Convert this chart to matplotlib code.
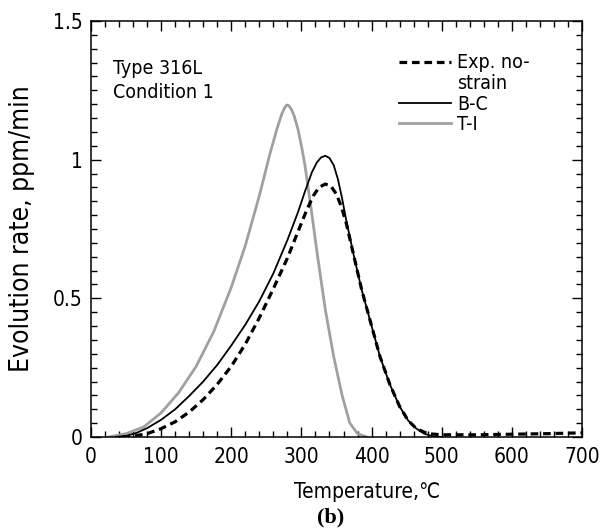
"""Hydrogen evolution rate vs temperature, type 316L, condition 1 (panel b)."""

import matplotlib
matplotlib.use("Agg")
import matplotlib.pyplot as plt
from matplotlib import font_manager
from matplotlib.lines import Line2D
from matplotlib.ticker import MultipleLocator

# ------------------------------------------------------------------
# Data
# ------------------------------------------------------------------
exp_T = [45, 60, 80, 100, 120, 140, 160, 180, 200, 220, 240, 260, 280, 295,
         307, 317, 325, 334, 342, 350, 357, 364, 375, 386, 399, 412, 426,
         440, 452, 464, 480, 500, 550, 600, 650, 700]
exp_rate = [0.0, 0.003, 0.012, 0.03, 0.055, 0.09, 0.135, 0.19, 0.255, 0.335,
            0.43, 0.535, 0.645, 0.74, 0.815, 0.87, 0.9, 0.912, 0.905, 0.875,
            0.83, 0.77, 0.65, 0.53, 0.41, 0.29, 0.19, 0.11, 0.06, 0.03,
            0.012, 0.008, 0.008, 0.01, 0.012, 0.015]

bc_T = [35, 50, 65, 80, 100, 120, 140, 160, 180, 200, 220, 240, 260, 280,
        295, 305, 315, 322, 328, 334, 340, 346, 352, 358, 364, 375, 386,
        399, 412, 426, 440, 452, 464, 475, 488, 500]
bc_rate = [0.0, 0.004, 0.015, 0.032, 0.062, 0.1, 0.148, 0.2, 0.26, 0.33,
           0.405, 0.49, 0.59, 0.71, 0.81, 0.885, 0.955, 0.99, 1.008, 1.014,
           1.006, 0.98, 0.93, 0.86, 0.78, 0.65, 0.53, 0.41, 0.29, 0.19,
           0.11, 0.06, 0.03, 0.012, 0.002, 0.0]

ti_T = [25, 50, 75, 100, 125, 150, 175, 200, 220, 240, 255, 265, 272, 276,
        279, 282, 286, 290, 295, 300, 305, 314, 322, 334, 346, 358, 369,
        380, 393]
ti_rate = [0.0, 0.012, 0.036, 0.087, 0.16, 0.255, 0.38, 0.54, 0.69, 0.87,
           1.02, 1.11, 1.165, 1.187, 1.197, 1.195, 1.18, 1.155, 1.11, 1.05,
           0.98, 0.82, 0.67, 0.46, 0.29, 0.15, 0.05, 0.012, 0.0]

x_ticks = [0, 100, 200, 300, 400, 500, 600, 700]
y_ticks = [0, 0.5, 1, 1.5]
y_tick_labels = ["0", "0.5", "1", "1.5"]

# ------------------------------------------------------------------
# Fonts: the original uses a tall, narrow gothic face
# ------------------------------------------------------------------
names = {f.name for f in font_manager.fontManager.ttflist}
condensed = [f for f in font_manager.fontManager.ttflist
             if f.name == "DejaVu Sans" and f.stretch == "condensed"]
if "Liberation Sans Narrow" in names:
    plt.rcParams["font.family"] = ["Liberation Sans Narrow", "DejaVu Sans", "Noto Sans CJK JP"]
elif condensed:
    plt.rcParams["font.family"] = ["DejaVu Sans", "Noto Sans CJK JP"]
    plt.rcParams["font.stretch"] = "condensed"
else:
    plt.rcParams["font.family"] = ["Liberation Sans", "DejaVu Sans", "Noto Sans CJK JP"]

# ------------------------------------------------------------------
# Plot
# ------------------------------------------------------------------
fig = plt.figure(figsize=(6.04, 5.31), dpi=100)
ax = fig.add_axes([91 / 604, 1 - 437 / 531, 491 / 604, 416 / 531])

ti_line, = ax.plot(ti_T, ti_rate, color="#a0a0a0", lw=2.0, label="T-I")
bc_line, = ax.plot(bc_T, bc_rate, color="black", lw=1.3, label="B-C")
exp_line, = ax.plot(exp_T, exp_rate, color="black", lw=2.3,
                    dashes=(2.4, 1.5), label="Exp. no-")

ax.set_xlim(0, 700)
ax.set_ylim(0, 1.5)
ax.set_xticks(x_ticks)
ax.set_yticks(y_ticks)
ax.set_yticklabels(y_tick_labels)
ax.xaxis.set_minor_locator(MultipleLocator(20))
ax.yaxis.set_minor_locator(MultipleLocator(0.05))
ax.tick_params(which="both", direction="in", top=True, right=True,
               width=1.0, labelsize=15)
ax.tick_params(which="major", length=7)
ax.tick_params(which="minor", length=4)
ax.tick_params(axis="x", pad=7)
ax.tick_params(axis="y", pad=6)
for sp in ax.spines.values():
    sp.set_linewidth(1.1)

ax.set_xlabel("Temperature,℃", fontsize=15, va="center")
ax.xaxis.set_label_coords((367 - 91) / 491, -(492 - 437) / 416)
ax.set_ylabel("Evolution rate, ppm/min", fontsize=19, va="center")
ax.yaxis.set_label_coords((22 - 91) / 491, 0.5)

ax.text(0.045, 0.887, "Type 316L", transform=ax.transAxes, fontsize=14,
        va="center", ha="left")
ax.text(0.045, 0.827, "Condition 1", transform=ax.transAxes, fontsize=14,
        va="center", ha="left")

blank = Line2D([], [], linestyle="none", label="strain")
ax.legend(handles=[exp_line, blank, bc_line, ti_line],
          labels=["Exp. no-", "strain", "B-C", "T-I"],
          loc="upper left", bbox_to_anchor=(0.627, 0.922), frameon=False,
          fontsize=14, handlelength=2.7, handletextpad=0.3,
          labelspacing=0.08, borderpad=0, borderaxespad=0)

fig.text(331 / 604, 1 - 517 / 531, "(b)", fontsize=16, fontweight="bold",
         family="Liberation Serif", ha="center", va="center")

fig.savefig("out.png", dpi=100)
